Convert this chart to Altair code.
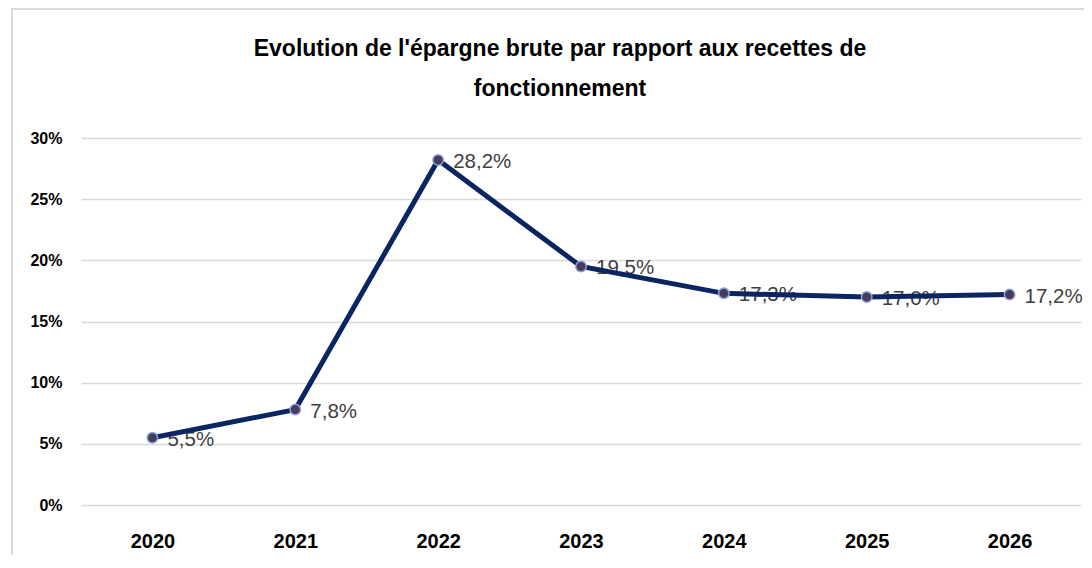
import altair as alt
import pandas as pd

years = ["2020", "2021", "2022", "2023", "2024", "2025", "2026"]
values = [0.055, 0.078, 0.282, 0.195, 0.173, 0.170, 0.172]
labels = ["5,5%", "7,8%", "28,2%", "19,5%", "17,3%", "17,0%", "17,2%"]
y_ticks = [0, 0.05, 0.10, 0.15, 0.20, 0.25, 0.30]

df = pd.DataFrame({"year": years, "value": values, "label": labels})

FONT = "Liberation Sans"

x = alt.X("year:N", sort=years, title=None,
          scale=alt.Scale(paddingInner=0, paddingOuter=0, align=0.5),
          axis=alt.Axis(labelAngle=0, domain=False, ticks=False, grid=False,
                        labelFontSize=20, labelFontWeight="bold", labelColor="#000000",
                        labelFont=FONT, labelPadding=26))
y = alt.Y("value:Q", title=None,
          scale=alt.Scale(domain=[0, 0.30], nice=False),
          axis=alt.Axis(values=y_ticks, format=".0%", domain=False, ticks=False,
                        gridColor="#d9d9d9", gridWidth=1.5,
                        labelFontSize=16, labelFontWeight="bold", labelColor="#000000",
                        labelFont=FONT, labelPadding=19))

base = alt.Chart(df)

frame = base.mark_rect(fill="transparent", stroke="#d9d9d9", strokeWidth=2).encode(
    x=alt.value(-69), x2=alt.value(1100), y=alt.value(-129), y2=alt.value(600)
).transform_filter("datum.year == '2020'")

text = base.mark_text(align="left", baseline="middle", dx=15, dy=2, fontSize=20.5,
                      color="#404040", font=FONT).encode(x=x, y=y, text="label:N")
line = base.mark_line(color="#0b2563", strokeWidth=5).encode(x=x, y=y)
points = base.mark_point(filled=True, size=110, fill="#4a3b5c", stroke="#8aa6db",
                         strokeWidth=1.5, opacity=1).encode(x=x, y=y)

chart = alt.layer(frame, text, line, points).properties(
    width=1000, height=367,
    autosize=alt.AutoSizeParams(type="none"),
    padding={"left": 73, "top": 130, "right": 3, "bottom": 50},
    title=alt.TitleParams(
        text=["Evolution de l'épargne brute par rapport aux recettes de", "fonctionnement"],
        fontSize=23, fontWeight="bold", color="#000000", font=FONT,
        anchor="middle", offset=-93, lineHeight=40, dx=-21
    )
).configure_view(stroke=None)

chart.save("out.html", embed_options={"renderer": "svg", "actions": False})
